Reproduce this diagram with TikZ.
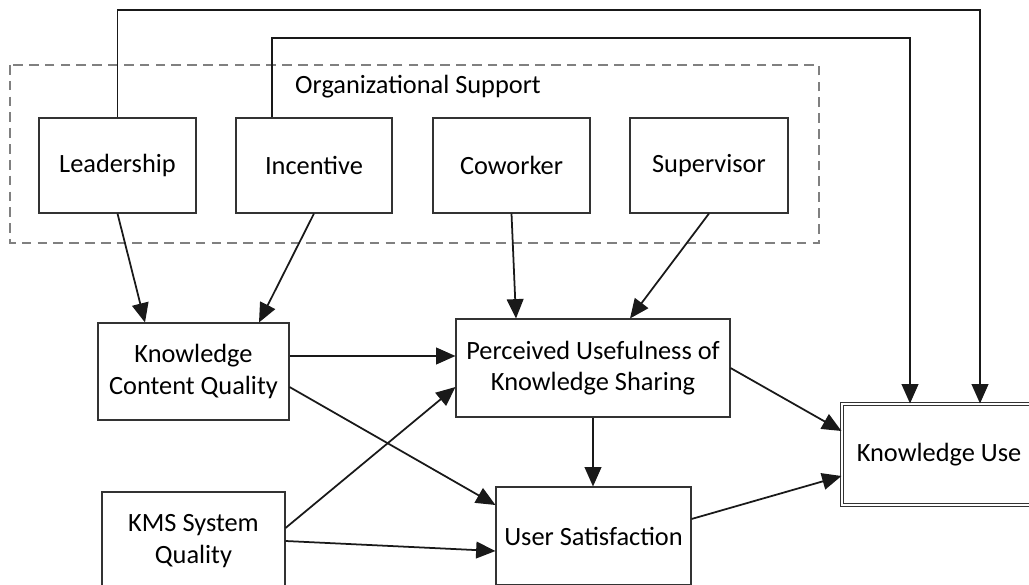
\documentclass[tikz,border=0pt]{standalone}
\usepackage{fontspec}
\setmainfont{Carlito}
\usetikzlibrary{arrows.meta}

\tikzset{
  box/.style={draw=black!80, line width=0.6pt, align=center, inner sep=2pt,
    font=\fontsize{15}{18}\selectfont},
  arr/.style={-{Triangle[length=11pt, width=9.5pt]}, line width=1pt, black!90}
}

\begin{document}
\begin{tikzpicture}
			\useasboundingbox (0,0) rectangle (20.58,-11.70);

			% Organizational support
			\draw[gray, line width=0.6pt, dash pattern=on 5.5pt off 3.5pt] (0.2,-1.3) rectangle (16.38,-4.86);
			\node[anchor=west, font=\fontsize{15}{18}\selectfont] (orgs) at (5.78,-1.74) {Organizational Support};
			\node[box, minimum width=3.14cm, minimum height=1.9cm] (lead) at (2.35,-3.31) {Leadership};
			\node[box, minimum width=3.12cm, minimum height=1.9cm] (inc) at (6.28,-3.31) {Incentive};
			\node[box, minimum width=3.14cm, minimum height=1.9cm] (cow) at (10.23,-3.31) {Coworker};
			\node[box, minimum width=3.16cm, minimum height=1.9cm] (sup) at (14.18,-3.31) {Supervisor};

			% Middle and lower row
			\node[box, minimum width=3.82cm, minimum height=1.94cm] (kcq) at (3.87,-7.43) {Knowledge\\Content Quality};
			\node[box, minimum width=5.48cm, minimum height=1.96cm] (pu) at (11.86,-7.36) {Perceived Usefulness of\\Knowledge Sharing};
			\node[box, minimum width=3.66cm, minimum height=1.96cm] (kms) at (3.87,-10.82) {KMS System\\Quality};
			\node[box, minimum width=3.9cm, minimum height=1.96cm] (us) at (11.87,-10.72) {User Satisfaction};
			\node[box, double, double distance=1.3pt, minimum width=3.88cm, minimum height=2.02cm] (ku) at (18.78,-9.09) {Knowledge Use};

			% Long paths over the top
			\coordinate (railA) at (0,-0.2);
			\coordinate (railB) at (0,-0.76);
			\draw[arr] (lead.north) -- (lead.north |- railA) -| ([xshift=0.82cm]ku.north);
			\draw[arr] ([xshift=-0.84cm]inc.north) -- ([xshift=-0.84cm]inc.north |- railB) -| ([xshift=-0.58cm]ku.north);

			% Support to beliefs
			\draw[arr] (lead.south) -- ([xshift=-0.97cm]kcq.north);
			\draw[arr] (inc.south) -- ([xshift=1.31cm]kcq.north);
			\draw[arr] (cow.south) -- ([xshift=-1.54cm]pu.north);
			\draw[arr] (sup.south) -- ([xshift=0.74cm]pu.north);

			% Quality paths
			\draw[arr] ([yshift=0.31cm]kcq.east) -- ([yshift=0.31cm]kcq.east -| pu.west);
			\draw[arr] ([yshift=-0.31cm]kcq.east) -- ([yshift=0.62cm]us.west);
			\draw[arr] ([yshift=0.26cm]kms.east) -- ([yshift=-0.38cm]pu.west);
			\draw[arr] (kms.east) -- ([yshift=-0.3cm]us.west);

			% To use
			\draw[arr] (pu.south) -- (pu.south |- us.north);
			\draw[arr] (pu.east) -- ([yshift=0.47cm]ku.west);
			\draw[arr] ([yshift=0.34cm]us.east) -- ([yshift=-0.43cm]ku.west);
		\end{tikzpicture}
\end{document}
